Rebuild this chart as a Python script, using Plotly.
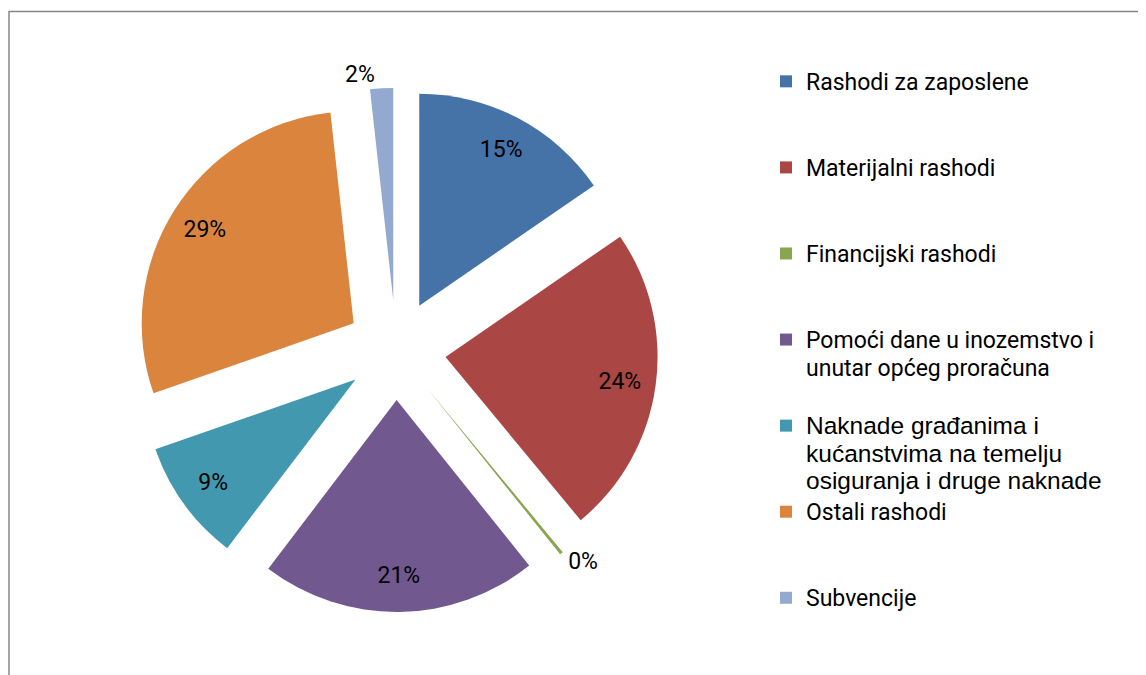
import plotly.graph_objects as go

# ---- data ----
categories = [
    "Rashodi za zaposlene",
    "Materijalni rashodi",
    "Financijski rashodi",
    "Pomoći dane u inozemstvo i unutar općeg proračuna",
    "Naknade građanima i kućanstvima na temelju osiguranja i druge naknade",
    "Ostali rashodi",
    "Subvencije",
]
values = [15.4, 23.6, 0.25, 21.1, 9.3, 28.6, 1.75]
colors = ["#4572A7", "#AA4643", "#89A54E", "#71588F", "#4198AF", "#DB843D", "#93A9CF"]
legend_lines = [
    ["Rashodi za zaposlene"],
    ["Materijalni rashodi"],
    ["Financijski rashodi"],
    ["Pomoći dane u inozemstvo i", "unutar općeg proračuna"],
    ["Naknade građanima i", "kućanstvima na temelju", "osiguranja i druge naknade"],
    ["Ostali rashodi"],
    ["Subvencije"],
]
legend_fonts = ["cal", "cal", "cal", "cal", "arial", "cal", "cal"]

# ---- styling helpers ----
CAL = "Roboto, Open Sans, sans-serif"
N_LINES = 3

def legend_label(lines, kind):
    if kind == "arial":
        parts = ['<span style="font-family:Arial, Liberation Sans;font-size:24.5px">%s</span>' % l for l in lines]
    else:
        parts = ['<span style="font-size:23px">%s</span>' % l for l in lines]
    parts += ["\u00a0"] * (N_LINES - len(lines))
    return "<br>".join(parts)

labels = [legend_label(l, k) for l, k in zip(legend_lines, legend_fonts)]

small = [v < 5 for v in values]
pull = [0.236] * len(values)

W, H = 1146, 675
OFF = 8  # page body margin
cx, cy, R = 396 - OFF, 350 - OFF, 212
half = R * (1 + pull[0])
domain = dict(x=[(cx - half) / W, (cx + half) / W],
              y=[1 - (cy + half) / H, 1 - (cy - half) / H])

fig = go.Figure()

# main pie (slices + outside labels for small slices)
fig.add_trace(go.Pie(
    labels=labels, values=values, sort=False, direction="clockwise", rotation=0,
    pull=pull, domain=domain,
    marker=dict(colors=colors, line=dict(width=0)),
    texttemplate="%{percent:.0%}",
    textposition=["outside" if s else "none" for s in small],
    textfont=dict(family=CAL, size=23, color="black"),
    outsidetextfont=dict(family=CAL, size=23, color="black"),
    hoverinfo="label+percent", showlegend=True,
))

# transparent overlay carrying the inside labels further out along each slice
fig.add_trace(go.Pie(
    labels=labels, values=values, sort=False, direction="clockwise", rotation=0,
    pull=pull, domain=domain, hole=0.66,
    marker=dict(colors=["rgba(0,0,0,0)"] * len(values), line=dict(width=0)),
    texttemplate="%{percent:.0%}",
    textposition=["none" if s else "inside" for s in small],
    insidetextorientation="horizontal",
    textfont=dict(family=CAL, size=23, color="black"),
    hoverinfo="skip", showlegend=False,
))

fig.update_layout(
    width=W, height=H,
    margin=dict(l=0, r=0, t=0, b=0, autoexpand=False),
    paper_bgcolor="white", plot_bgcolor="white",
    font=dict(family=CAL, color="black"),
    legend=dict(
        xref="container", yref="container",
        x=758 / W, xanchor="left", y=1 - 53 / H, yanchor="top",
        font=dict(family=CAL, size=21.3, color="black"),
        valign="top", traceorder="normal", itemclick=False,
        bgcolor="rgba(0,0,0,0)", maxheight=1,
    ),
    shapes=[dict(type="rect", xref="paper", yref="paper",
                 x0=1 / W, x1=1.05, y0=-0.05, y1=1 - 3.5 / H,
                 line=dict(color="#868686", width=1.5), layer="below")],
)

fig.write_html("out.html")
